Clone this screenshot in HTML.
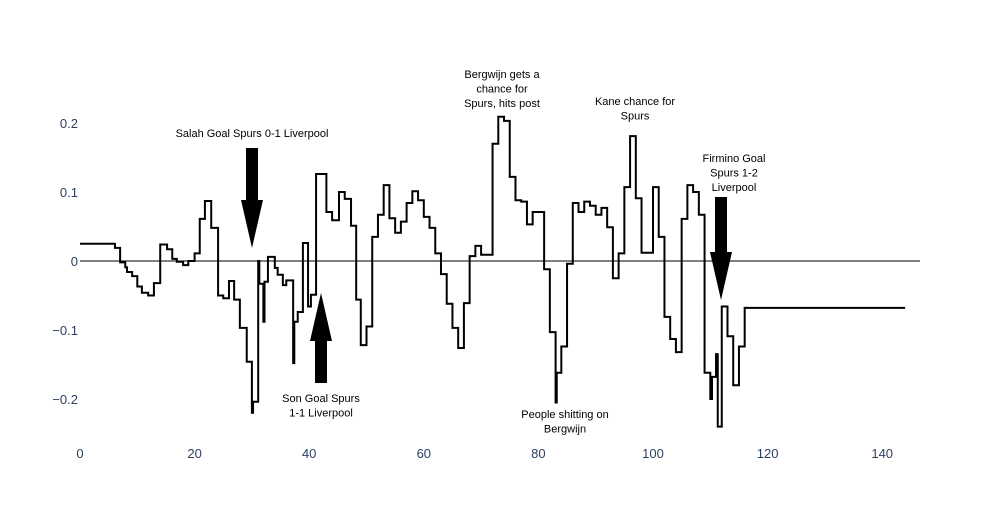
<!DOCTYPE html>
<html><head><meta charset="utf-8"><style>
body{margin:0;background:#fff;}
svg text{font-family:"Liberation Sans",sans-serif;}
</style></head><body>
<svg id="chart" width="985" height="525" viewBox="0 0 985 525" xmlns="http://www.w3.org/2000/svg">
<g id="yticks"></g>
<g id="xticks"></g>
<line x1="80" x2="920" y1="261" y2="261" stroke="#000" stroke-width="1"/>
<path id="series" fill="none" stroke="#000" stroke-width="2"/>
<g id="annots"></g>
</svg>
<script>
const xVals=[0,6.1,7,7.9,8.2,9.1,10,10.8,11.9,12.9,14,15.2,16.1,16.9,18,18.9,20,20.9,21.8,22.9,24.1,25,26,26.9,27.9,29.1,30,30.2,31.1,31.3,32,32.2,32.8,34,34.5,35.4,36,37.2,37.4,38,38.9,39.8,40.3,41.2,43,44,45.2,46.2,47.3,48.2,49,50,51,52,53,54,55,56,57,58,59,60,61,62,63,64,65,66,67,68,69,70,72,73,74,75,76,77,78,79,81,82,83,83.2,84,85,86,87,88,89,90,91,92,93,94,95,96,97,98,100,101,102,103,104,105,106,107,108,109,110,110.3,111,111.3,112,113,114,115,116,144];
const yVals=[0.025,0.019,-0.002,-0.009,-0.016,-0.022,-0.037,-0.046,-0.05,-0.032,0.024,0.017,0.003,-0.001,-0.006,0,0.011,0.061,0.087,0.048,-0.05,-0.054,-0.029,-0.056,-0.097,-0.146,-0.22,-0.204,0,-0.033,-0.088,-0.03,0.006,-0.01,-0.02,-0.035,-0.028,-0.148,-0.088,-0.074,0.026,-0.066,-0.049,0.126,0.071,0.059,0.1,0.09,0.051,-0.056,-0.122,-0.095,0.035,0.067,0.11,0.062,0.041,0.057,0.084,0.101,0.088,0.064,0.048,0.011,-0.019,-0.062,-0.097,-0.126,-0.061,0.007,0.022,0.009,0.17,0.209,0.203,0.122,0.088,0.086,0.053,0.071,-0.012,-0.103,-0.205,-0.162,-0.124,-0.004,0.084,0.071,0.086,0.08,0.067,0.077,0.049,-0.025,0.011,0.107,0.181,0.091,0.012,0.107,0.035,-0.081,-0.113,-0.132,0.061,0.11,0.1,0.067,-0.162,-0.2,-0.168,-0.135,-0.24,-0.066,-0.109,-0.18,-0.124,-0.068,-0.068];
const xTickVals=[0,20,40,60,80,100,120,140];
const yTickVals=[0.2,0.1,0,-0.1,-0.2];
const yTickLabels=["0.2","0.1","0","−0.1","−0.2"];
const xs=v=>80+v*5.73;
const ys=v=>261-v*690;
const NS="http://www.w3.org/2000/svg";
let d="M"+xs(xVals[0])+","+ys(yVals[0]);
for(let i=1;i<xVals.length;i++){d+=" H"+xs(xVals[i])+" V"+ys(yVals[i]);}
document.getElementById('series').setAttribute('d',d);
const yg=document.getElementById('yticks');
yTickVals.forEach((v,i)=>{const t=document.createElementNS(NS,'text');


t.setAttribute('x',78);t.setAttribute('y',ys(v)+5);t.setAttribute('text-anchor','end');t.setAttribute('font-size','13');t.setAttribute('fill','#2a3f5f');t.textContent=yTickLabels[i];yg.appendChild(t);});
const xg=document.getElementById('xticks');
xTickVals.forEach(v=>{const t=document.createElementNS(NS,'text');


t.setAttribute('x',xs(v));t.setAttribute('y',458);t.setAttribute('text-anchor','middle');t.setAttribute('font-size','13');t.setAttribute('fill','#2a3f5f');t.textContent=v;xg.appendChild(t);});
const ag=document.getElementById('annots');
function arrow(x,tail,tip,name){const dir=tip>tail?1:-1;const hb=tip-dir*48;
const p=document.createElementNS(NS,'path');


p.setAttribute('d',`M${x-6},${tail} L${x+6},${tail} L${x+6},${hb} L${x+11},${hb} L${x},${tip} L${x-11},${hb} L${x-6},${hb} Z`);p.setAttribute('fill','#000');ag.appendChild(p);}
arrow(252,148,248,'salah-goal-arrow');
arrow(321,383,293,'son-goal-arrow');
arrow(721,197,300,'firmino-goal-arrow');
function label(x,y0,lines,name){const t=document.createElementNS(NS,'text');


t.setAttribute('font-size','11');t.setAttribute('text-anchor','middle');t.setAttribute('fill','#000');
lines.forEach((l,i)=>{const s=document.createElementNS(NS,'tspan');s.setAttribute('x',x);s.setAttribute('y',y0+i*14.5);s.textContent=l;t.appendChild(s);});ag.appendChild(t);}
label(252,137,["Salah Goal Spurs 0-1 Liverpool"],'salah-goal-label');
label(321,402,["Son Goal Spurs","1-1 Liverpool"],'son-goal-label');
label(502,78,["Bergwijn gets a","chance for","Spurs, hits post"],'bergwijn-post-label');
label(635,105,["Kane chance for","Spurs"],'kane-chance-label');
label(734,162,["Firmino Goal","Spurs 1-2","Liverpool"],'firmino-goal-label');
label(565,418,["People shitting on","Bergwijn"],'bergwijn-criticism-label');
</script>
</body></html>
